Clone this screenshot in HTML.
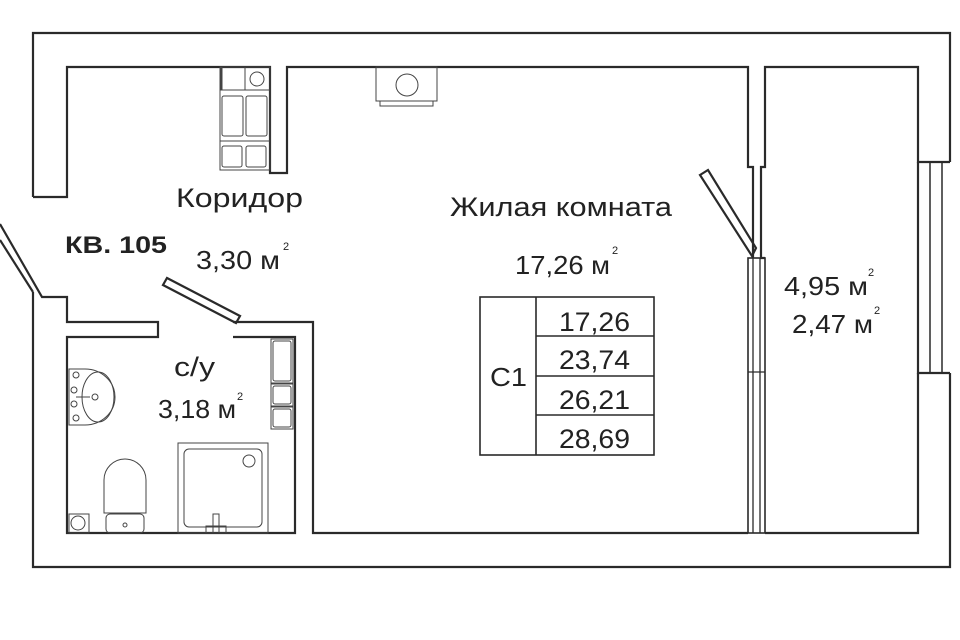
<!DOCTYPE html>
<html><head><meta charset="utf-8"><style>
html,body{margin:0;padding:0;background:#fff;width:960px;height:640px;overflow:hidden}
svg{display:block}
text{font-family:"Liberation Sans","DejaVu Sans",sans-serif;fill:#222}
</style></head><body>
<svg width="960" height="640" viewBox="0 0 960 640" xmlns="http://www.w3.org/2000/svg">
<g fill="none" stroke="#2a2a2a" stroke-width="2.2">
<polyline points="33,197 33,33 950,33 950,162"/>
<polyline points="950,373 950,567 33,567 33,292"/>
<polyline points="0,224 42,297 67,297 67,322 158,322 158,337 67,337 67,533 295,533 295,337 233,337"/>
<line x1="0" y1="240" x2="33" y2="292"/>
<polyline points="33,197 67,197 67,67 270,67 270,173 287,173 287,67 748,67 748,167 753,167 753,258"/>
<polyline points="765,258 761,258 761,167 765,167 765,67 918,67 918,162 950,162"/>
<polyline points="918,162 918,373 950,373"/>
<line x1="930" y1="162" x2="930" y2="373" stroke-width="1.5"/>
<line x1="942" y1="162" x2="942" y2="373" stroke-width="1.5"/>
<polyline points="918,373 918,533 765,533"/>
<polyline points="748,533 313,533 313,322 233,322"/>
<polygon points="163,285 167,278 240,316 236,323"/>
<polygon points="700,175 708,170 756,248 752,256"/>
<rect x="748" y="258" width="17" height="275" stroke-width="1.6"/>
<line x1="753" y1="258" x2="753" y2="533" stroke-width="1.3"/>
<line x1="760" y1="258" x2="760" y2="533" stroke-width="1.3"/>
<line x1="748" y1="372" x2="765" y2="372" stroke-width="1.3"/>
<rect x="480" y="297" width="174" height="158" stroke-width="1.6"/>
<line x1="536" y1="297" x2="536" y2="455" stroke-width="1.6"/>
<line x1="536" y1="336" x2="654" y2="336" stroke-width="1.6"/>
<line x1="536" y1="376" x2="654" y2="376" stroke-width="1.6"/>
<line x1="536" y1="415" x2="654" y2="415" stroke-width="1.6"/>
</g>
<g fill="none" stroke="#444" stroke-width="1">
<line x1="221" y1="67" x2="221" y2="90" stroke-width="3"/>
<rect x="220" y="67" width="50" height="103"/>
<line x1="220" y1="90" x2="270" y2="90"/>
<line x1="245" y1="67" x2="245" y2="90"/>
<circle cx="257" cy="79" r="7"/>
<rect x="222" y="96" width="21" height="40" rx="2"/><rect x="246" y="96" width="21" height="40" rx="2"/>
<line x1="220" y1="141" x2="270" y2="141"/>
<rect x="222" y="146" width="20" height="21" rx="2"/><rect x="246" y="146" width="20" height="21" rx="2"/>
<rect x="376" y="67" width="61" height="34"/>
<rect x="380" y="101" width="53" height="5"/>
<circle cx="407" cy="85" r="11"/>
<path d="M69,369 L85,369 A30,28 0 0 1 85,425 L69,425 Z"/>
<ellipse cx="98" cy="397" rx="16" ry="25"/>
<circle cx="76" cy="375" r="3"/><circle cx="74" cy="390" r="3"/><circle cx="74" cy="404" r="3"/><circle cx="76" cy="418" r="3"/>
<line x1="76" y1="397" x2="90" y2="397"/><circle cx="95" cy="397" r="3"/>
<rect x="271" y="339" width="22" height="44"/><rect x="273" y="341" width="18" height="40" rx="2"/>
<rect x="271" y="384" width="22" height="22"/><rect x="273" y="386" width="18" height="18" rx="2"/>
<rect x="271" y="407" width="22" height="22"/><rect x="273" y="409" width="18" height="18" rx="2"/>
<rect x="178" y="443" width="90" height="90"/>
<rect x="184" y="449" width="78" height="78" rx="5"/>
<circle cx="249" cy="461" r="6"/>
<rect x="213" y="514" width="6" height="19"/><rect x="206" y="526" width="20" height="7"/>
<path d="M104,513 L104,480 A21,21 0 0 1 146,480 L146,513 Z"/>
<rect x="106" y="514" width="38" height="19" rx="4"/>
<circle cx="125" cy="525" r="2"/>
<rect x="69" y="514" width="20" height="19"/><circle cx="78" cy="523" r="7"/>
</g>
<text x="176" y="207" font-size="27" textLength="127" lengthAdjust="spacingAndGlyphs">Коридор</text>
<text x="65" y="253" font-size="24" font-weight="bold" textLength="102" lengthAdjust="spacingAndGlyphs">КВ. 105</text>
<text x="196" y="269" font-size="26" textLength="84" lengthAdjust="spacingAndGlyphs">3,30 м</text><text x="283" y="250" font-size="11">2</text>
<text x="450" y="216" font-size="27" textLength="222" lengthAdjust="spacingAndGlyphs">Жилая комната</text>
<text x="515" y="274" font-size="26" textLength="95" lengthAdjust="spacingAndGlyphs">17,26 м</text><text x="612" y="254" font-size="11">2</text>
<text x="174" y="376" font-size="27" textLength="41" lengthAdjust="spacingAndGlyphs">с/у</text>
<text x="158" y="418" font-size="26" textLength="78" lengthAdjust="spacingAndGlyphs">3,18 м</text><text x="237" y="400" font-size="11">2</text>
<text x="784" y="295" font-size="26" textLength="84" lengthAdjust="spacingAndGlyphs">4,95 м</text><text x="868" y="276" font-size="11">2</text>
<text x="792" y="333" font-size="26" textLength="81" lengthAdjust="spacingAndGlyphs">2,47 м</text><text x="874" y="314" font-size="11">2</text>
<text x="490" y="386" font-size="26" textLength="37" lengthAdjust="spacingAndGlyphs">С1</text>
<g font-size="27">
<text x="559" y="331" textLength="71" lengthAdjust="spacingAndGlyphs">17,26</text>
<text x="559" y="369" textLength="71" lengthAdjust="spacingAndGlyphs">23,74</text>
<text x="559" y="409" textLength="71" lengthAdjust="spacingAndGlyphs">26,21</text>
<text x="559" y="448" textLength="71" lengthAdjust="spacingAndGlyphs">28,69</text>
</g>
</svg>
</body></html>
